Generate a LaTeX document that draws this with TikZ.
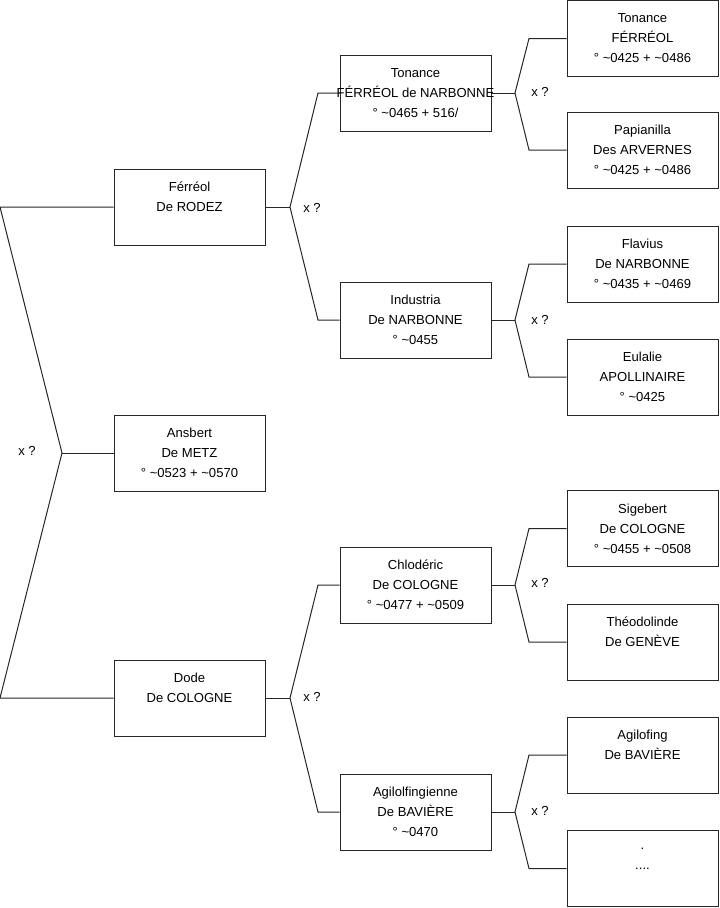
\documentclass[tikz,border=0pt]{standalone}
\usepackage{fontspec}
\setmainfont{Liberation Sans}
\begin{document}
\begin{tikzpicture}[x=0.75pt,y=-0.75pt,
  box/.style={draw=black!85,line width=0.75pt,minimum width=113.25pt,minimum height=57pt,
    inner sep=0pt,align=center,font=\fontsize{9.8}{15}\selectfont},
  lbl/.style={font=\fontsize{9.8}{11}\selectfont,inner sep=0pt},
  conn/.style={line width=0.75pt,black!85}]
\useasboundingbox (0,0) rectangle (719,908);
% level 1
\node[box] (fer) at (189.5,207) {Férréol\\De RODEZ\\\mbox{}};
\node[box] (ans) at (189.5,453) {Ansbert\\De METZ\\° \textasciitilde0523 + \textasciitilde0570};
\node[box] (dod) at (189.5,698) {Dode\\De COLOGNE\\\mbox{}};
% level 2
\node[box] (ton) at (415.5,93) {Tonance\\\makebox[0pt][c]{FÉRRÉOL de NARBONNE}\\° \textasciitilde0465 + 516/};
\node[box] (ind) at (415.5,320) {Industria\\De NARBONNE\\° \textasciitilde0455};
\node[box] (chl) at (415.5,585) {Chlodéric\\De COLOGNE\\° \textasciitilde0477 + \textasciitilde0509};
\node[box] (agi) at (415.5,812) {Agilolfingienne\\De BAVIÈRE\\° \textasciitilde0470};
% level 3
\node[box] (ton3) at (642.5,38.5) {Tonance\\FÉRRÉOL\\° \textasciitilde0425 + \textasciitilde0486};
\node[box] (pap) at (642.5,150) {Papianilla\\Des ARVERNES\\° \textasciitilde0425 + \textasciitilde0486};
\node[box] (fla) at (642.5,264) {Flavius\\De NARBONNE\\° \textasciitilde0435 + \textasciitilde0469};
\node[box] (eul) at (642.5,377) {Eulalie\\APOLLINAIRE\\° \textasciitilde0425};
\node[box] (sig) at (642.5,528.5) {Sigebert\\De COLOGNE\\° \textasciitilde0455 + \textasciitilde0508};
\node[box] (the) at (642.5,642) {Théodolinde\\De GENÈVE\\\mbox{}};
\node[box] (agf) at (642.5,755) {Agilofing\\De BAVIÈRE\\\mbox{}};
\node[box] (dots) at (642.5,868.5) {.\\....\\\mbox{}};
% coordinates
\coordinate (r1) at (0,207);
\coordinate (r2) at (62,453);
\coordinate (r3) at (0,698);
\coordinate (jfer) at (290,207);
\coordinate (jdod) at (290,698);
\coordinate (b2) at (318,0);
\coordinate (jton) at (515,93);
\coordinate (jind) at (515,320);
\coordinate (jchl) at (515,585);
\coordinate (jagi) at (515,812);
\coordinate (b3) at (529,0);
% connectors
\draw[conn] (fer.west) -- (r1) -- (r2) -- (r3) -- (dod.west);
\draw[conn] (r2) -- (ans.west);
\draw[conn] (fer.east) -- (jfer);
\draw[conn] (ton.west) -- (ton.west -| b2) -- (jfer) -- (ind.west -| b2) -- (ind.west);
\draw[conn] (dod.east) -- (jdod);
\draw[conn] (chl.west) -- (chl.west -| b2) -- (jdod) -- (agi.west -| b2) -- (agi.west);
\draw[conn] (ton.east) -- (jton);
\draw[conn] (ton3.west) -- (ton3.west -| b3) -- (jton) -- (pap.west -| b3) -- (pap.west);
\draw[conn] (ind.east) -- (jind);
\draw[conn] (fla.west) -- (fla.west -| b3) -- (jind) -- (eul.west -| b3) -- (eul.west);
\draw[conn] (chl.east) -- (jchl);
\draw[conn] (sig.west) -- (sig.west -| b3) -- (jchl) -- (the.west -| b3) -- (the.west);
\draw[conn] (agi.east) -- (jagi);
\draw[conn] (agf.west) -- (agf.west -| b3) -- (jagi) -- (dots.west -| b3) -- (dots.west);
% labels
\node[lbl] (x0) at (27,451) {x ?};
\node[lbl] (x1) at (312,208) {x ?};
\node[lbl] (x2) at (312,697) {x ?};
\node[lbl] (x3) at (540,92) {x ?};
\node[lbl] (x4) at (540,320) {x ?};
\node[lbl] (x5) at (540,583) {x ?};
\node[lbl] (x6) at (540,811) {x ?};
\end{tikzpicture}
\end{document}
